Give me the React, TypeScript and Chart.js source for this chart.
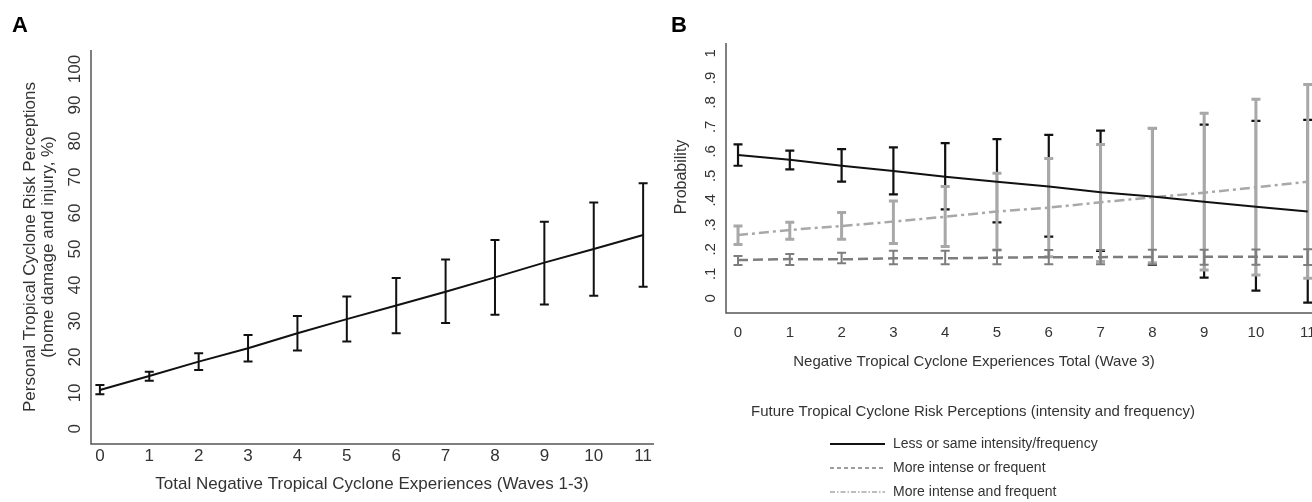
import React, { useEffect, useRef } from "react";
import { Chart, registerables } from "chart.js";

Chart.register(...registerables);

const FONT = '"Liberation Sans", Arial, Helvetica, sans-serif';

// ---------- Panel A data ----------
const A_X = [0, 1, 2, 3, 4, 5, 6, 7, 8, 9, 10, 11];
const A_MEAN = [10.8, 14.7, 18.7, 22.4, 26.6, 30.5, 34.3, 38.1, 42.1, 46.2, 50.0, 53.9];
const A_LO = [9.6, 13.4, 16.4, 18.7, 21.8, 24.3, 26.6, 29.4, 31.7, 34.6, 37.0, 39.5];
const A_HI = [12.2, 15.9, 21.0, 26.1, 31.4, 36.8, 41.9, 47.1, 52.5, 57.6, 62.9, 68.3];
const A_YTICKS = [0, 10, 20, 30, 40, 50, 60, 70, 80, 90, 100];
const A_XTICKS = [0, 1, 2, 3, 4, 5, 6, 7, 8, 9, 10, 11];
const A_YTITLE = ["Personal Tropical Cyclone Risk Perceptions", "(home damage and injury, %)"];
const A_XTITLE = "Total Negative Tropical Cyclone Experiences (Waves 1-3)";

// ---------- Panel B data ----------
const B_X = [0, 1, 2, 3, 4, 5, 6, 7, 8, 9, 10, 11];
const B_LESS = [0.585, 0.565, 0.541, 0.52, 0.496, 0.476, 0.456, 0.433, 0.415, 0.394, 0.374, 0.354];
const B_LESS_LO = [0.541, 0.526, 0.476, 0.424, 0.363, 0.31, 0.252, 0.193, 0.136, 0.084, 0.031, -0.018];
const B_LESS_HI = [0.628, 0.603, 0.609, 0.616, 0.633, 0.65, 0.667, 0.684, 0.694, 0.709, 0.724, 0.728];
const B_OR = [0.156, 0.16, 0.159, 0.163, 0.163, 0.166, 0.168, 0.168, 0.169, 0.17, 0.17, 0.17];
const B_OR_LO = [0.136, 0.136, 0.143, 0.139, 0.139, 0.139, 0.139, 0.139, 0.138, 0.137, 0.137, 0.136];
const B_OR_HI = [0.173, 0.181, 0.186, 0.194, 0.194, 0.197, 0.197, 0.197, 0.198, 0.198, 0.199, 0.2];
const B_AND = [0.258, 0.279, 0.295, 0.313, 0.333, 0.354, 0.37, 0.392, 0.412, 0.431, 0.453, 0.476];
const B_AND_LO = [0.22, 0.241, 0.241, 0.224, 0.211, 0.197, 0.17, 0.15, 0.145, 0.116, 0.095, 0.082];
const B_AND_HI = [0.295, 0.31, 0.35, 0.397, 0.456, 0.51, 0.571, 0.628, 0.694, 0.755, 0.812, 0.873];
const B_YTICKS = [0, 0.1, 0.2, 0.3, 0.4, 0.5, 0.6, 0.7, 0.8, 0.9, 1];
const B_YLABELS = ["0", ".1", ".2", ".3", ".4", ".5", ".6", ".7", ".8", ".9", "1"];
const B_XTICKS = [0, 1, 2, 3, 4, 5, 6, 7, 8, 9, 10, 11];
const B_SERIES = ["Less or same intensity/frequency", "More intense or frequent", "More intense and frequent"];
const B_YTITLE = "Probability";
const B_XTITLE = "Negative Tropical Cyclone Experiences Total (Wave 3)";
const B_LEGEND_TITLE = "Future Tropical Cyclone Risk Perceptions (intensity and frequency)";

const TEXT = "#333";
const AXIS = "#555";
const C_LESS = "#111";
const C_OR = "#7d7d7d";
const C_AND = "#a8a8a8";

function txt(ctx: any, s: string, x: number, y: number, font: string, align = "center", rot = 0, base = "middle", color = TEXT) {
  ctx.save();
  ctx.translate(x, y);
  if (rot) ctx.rotate(rot);
  ctx.font = font;
  ctx.fillStyle = color;
  ctx.textAlign = align;
  ctx.textBaseline = base;
  ctx.fillText(s, 0, 0);
  ctx.restore();
}

function errBars(ctx: any, xs: any, ys: any, X: number[], LO: number[], HI: number[], color: string, lw: number, cap: number) {
  ctx.save();
  ctx.lineWidth = lw;
  ctx.lineCap = "butt";
  ctx.strokeStyle = color;
  for (let i = 0; i < X.length; i++) {
    const px = xs.getPixelForValue(X[i]);
    const y1 = ys.getPixelForValue(LO[i]);
    const y2 = ys.getPixelForValue(HI[i]);
    ctx.beginPath();
    ctx.moveTo(px, y1);
    ctx.lineTo(px, y2);
    ctx.moveTo(px - cap, y1);
    ctx.lineTo(px + cap, y1);
    ctx.moveTo(px - cap, y2);
    ctx.lineTo(px + cap, y2);
    ctx.stroke();
  }
  ctx.restore();
}

function axes(ctx: any, ca: any) {
  ctx.save();
  ctx.strokeStyle = AXIS;
  ctx.lineWidth = 1.5;
  ctx.beginPath();
  ctx.moveTo(ca.left, ca.top);
  ctx.lineTo(ca.left, ca.bottom);
  ctx.lineTo(ca.right, ca.bottom);
  ctx.stroke();
  ctx.restore();
}

const panelAPlugin = {
  id: "panelA",
  beforeDatasetsDraw(chart: any) {
    const { ctx, scales } = chart;
    axes(ctx, chart.chartArea);
    errBars(ctx, scales.x, scales.y, A_X, A_LO, A_HI, C_LESS, 2, 4.5);
  },
  afterDraw(chart: any) {
    const { ctx, scales } = chart;
    const f = `17px ${FONT}`;
    txt(ctx, "A", 12, 32, `bold 22px ${FONT}`, "left", 0, "alphabetic", "#000");
    A_YTICKS.forEach((v) => txt(ctx, String(v), 75, scales.y.getPixelForValue(v), f, "center", -Math.PI / 2));
    A_XTICKS.forEach((v) => txt(ctx, String(v), scales.x.getPixelForValue(v), 456, f));
    txt(ctx, A_YTITLE[0], 30, 247, f, "center", -Math.PI / 2);
    txt(ctx, A_YTITLE[1], 48, 247, f, "center", -Math.PI / 2);
    txt(ctx, A_XTITLE, 372, 484, f);
  },
};

const OFF = 660;
const panelBPlugin = {
  id: "panelB",
  beforeDatasetsDraw(chart: any) {
    const { ctx, scales } = chart;
    axes(ctx, chart.chartArea);
    errBars(ctx, scales.x, scales.y, B_X, B_LESS_LO, B_LESS_HI, C_LESS, 2.2, 4.5);
    errBars(ctx, scales.x, scales.y, B_X, B_AND_LO, B_AND_HI, C_AND, 3, 4.5);
    errBars(ctx, scales.x, scales.y, B_X, B_OR_LO, B_OR_HI, C_OR, 2, 4.5);
  },
  afterDraw(chart: any) {
    const { ctx, scales } = chart;
    const f15 = `15px ${FONT}`;
    const f14 = `14px ${FONT}`;
    txt(ctx, "B", 671 - OFF, 32, `bold 22px ${FONT}`, "left", 0, "alphabetic", "#000");
    B_YTICKS.forEach((v, i) => txt(ctx, B_YLABELS[i], 711 - OFF, scales.y.getPixelForValue(v), f15, "center", -Math.PI / 2));
    B_XTICKS.forEach((v) => txt(ctx, String(v), scales.x.getPixelForValue(v), 333, f15));
    txt(ctx, B_YTITLE, 682 - OFF, 177, `16px ${FONT}`, "center", -Math.PI / 2);
    txt(ctx, B_XTITLE, 974 - OFF, 362, f15);
    txt(ctx, B_LEGEND_TITLE, 973 - OFF, 412, f15);
    const rows = [
      { y: 444, color: C_LESS, dash: [], lw: 2 },
      { y: 468, color: C_OR, dash: [4, 3], lw: 1.5 },
      { y: 492, color: C_AND, dash: [5, 2, 1.5, 2], lw: 1.5 },
    ];
    rows.forEach((r, i) => {
      ctx.save();
      ctx.strokeStyle = r.color;
      ctx.lineWidth = r.lw;
      ctx.setLineDash(r.dash);
      ctx.beginPath();
      ctx.moveTo(830 - OFF, r.y);
      ctx.lineTo(885 - OFF, r.y);
      ctx.stroke();
      ctx.restore();
      txt(ctx, B_SERIES[i], 893 - OFF, r.y, f14, "left");
    });
  },
};

function lineDs(label: string, X: number[], Y: number[], color: string, width: number, dash: number[]) {
  return {
    label,
    data: X.map((x, i) => ({ x, y: Y[i] })),
    borderColor: color,
    borderWidth: width,
    borderDash: dash,
    pointRadius: 0,
    fill: false,
    tension: 0,
  };
}

function hiddenScale(min: number, max: number, fit: (s: any) => void) {
  return {
    type: "linear" as const,
    min,
    max,
    ticks: { display: false },
    grid: { display: false, drawTicks: false },
    border: { display: false },
    afterFit: fit,
  };
}

export default function App() {
  const refA = useRef<HTMLCanvasElement>(null);
  const refB = useRef<HTMLCanvasElement>(null);

  useEffect(() => {
    const a = new Chart(refA.current as HTMLCanvasElement, {
      type: "line",
      data: { datasets: [lineDs("Panel A", A_X, A_MEAN, C_LESS, 2, [])] },
      options: {
        animation: false,
        responsive: false,
        devicePixelRatio: 1,
        layout: { padding: { left: 0, top: 50, right: 6, bottom: 0 } },
        plugins: { legend: { display: false }, tooltip: { enabled: false } },
        scales: {
          x: hiddenScale(-0.18, 11.22, (s: any) => { s.height = 58; }),
          y: hiddenScale(-4.2, 105.3, (s: any) => { s.width = 91; }),
        },
      },
      plugins: [panelAPlugin],
    } as any);

    const b = new Chart(refB.current as HTMLCanvasElement, {
      type: "line",
      data: {
        datasets: [
          lineDs(B_SERIES[0], B_X, B_LESS, C_LESS, 2, []),
          lineDs(B_SERIES[1], B_X, B_OR, C_OR, 2.5, [10, 5]),
          lineDs(B_SERIES[2], B_X, B_AND, C_AND, 2.5, [10, 4, 3, 4]),
        ],
      },
      options: {
        animation: false,
        responsive: false,
        devicePixelRatio: 1,
        layout: { padding: { left: 0, top: 43, right: 20, bottom: 0 } },
        plugins: { legend: { display: false }, tooltip: { enabled: false } },
        scales: {
          x: hiddenScale(-0.232, 11.43, (s: any) => { s.height = 189; }),
          y: hiddenScale(-0.06, 1.042, (s: any) => { s.width = 66; }),
        },
      },
      plugins: [panelBPlugin],
    } as any);

    return () => {
      a.destroy();
      b.destroy();
    };
  }, []);

  return (
    <div style={{ position: "fixed", left: 0, top: 0, width: 1312, height: 502, overflow: "hidden", background: "#fff" }}>
      <canvas ref={refA} width={660} height={502} style={{ position: "absolute", left: 0, top: 0, width: 660, height: 502 }} />
      <canvas ref={refB} width={690} height={502} style={{ position: "absolute", left: 660, top: 0, width: 690, height: 502 }} />
    </div>
  );
}
